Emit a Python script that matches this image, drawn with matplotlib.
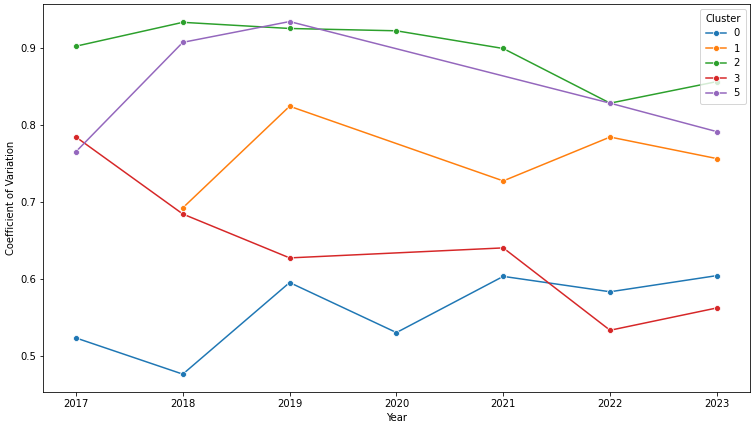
import numpy as np
import matplotlib
matplotlib.use("Agg")
import matplotlib.pyplot as plt

years = [2017, 2018, 2019, 2020, 2021, 2022, 2023]
clusters = ["0", "1", "2", "3", "5"]
cv_0 = [0.523, 0.476, 0.595, 0.530, 0.603, 0.583, 0.604]
cv_1 = [None, 0.692, 0.824, None, 0.727, 0.784, 0.756]
cv_2 = [0.902, 0.933, 0.925, 0.922, 0.899, 0.828, 0.856]
cv_3 = [0.784, 0.684, 0.627, None, 0.640, 0.533, 0.562]
cv_5 = [0.765, 0.907, 0.934, None, None, 0.828, 0.791]
series = [cv_0, cv_1, cv_2, cv_3, cv_5]
colors = ["#1f77b4", "#ff7f0e", "#2ca02c", "#d62728", "#9467bd"]

DPI = 72
fig = plt.figure(figsize=(753 / DPI, 426 / DPI), dpi=DPI)
ax = fig.add_axes([43.3 / 753, 34.3 / 426, (750 - 43.3) / 753, (422 - 34.3) / 426])

for name, vals, c in zip(clusters, series, colors):
    xs = [y for y, v in zip(years, vals) if v is not None]
    ys = [v for v in vals if v is not None]
    ax.plot(xs, ys, color=c, lw=1.5, marker="o", markersize=6,
            markeredgecolor="white", markeredgewidth=0.75, label=name)

ax.set_xlim(2016.694, 2023.31)
ax.set_ylim(0.4532, 0.9568)
ax.set_yticks([0.5, 0.6, 0.7, 0.8, 0.9])
ax.set_xticks(years)
ax.set_xlabel("Year")
ax.set_ylabel("Coefficient of Variation")
ax.legend(title="Cluster", loc="upper right", borderaxespad=0.45, borderpad=0.5)

fig.savefig("out.png", dpi=DPI)
